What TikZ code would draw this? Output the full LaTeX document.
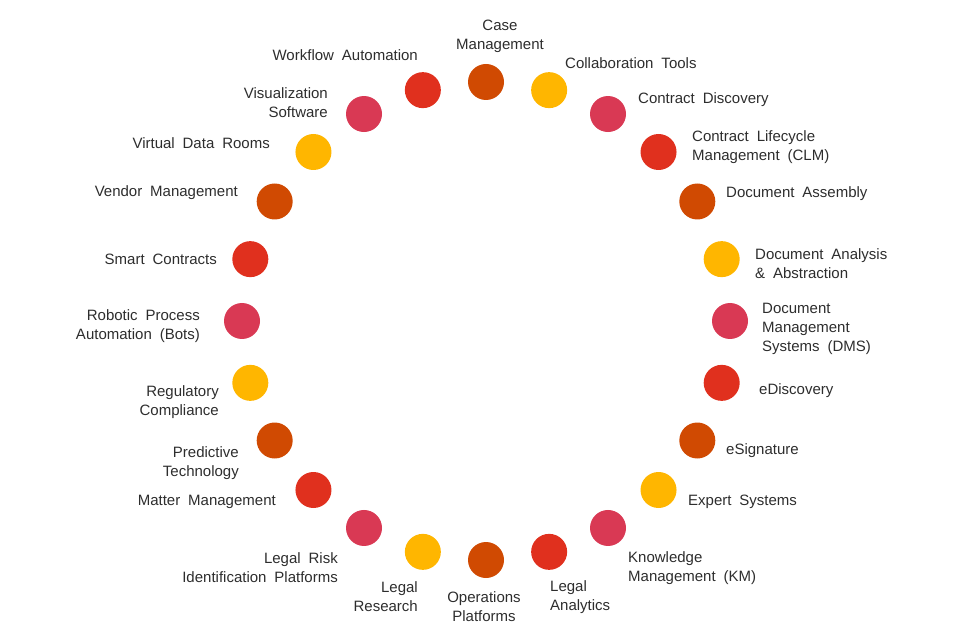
\documentclass[tikz,border=0pt]{standalone}
\usepackage{fontspec}
\setmainfont{Liberation Sans}[WordSpace=1.9]
\definecolor{pwcorange}{HTML}{D04A02}
\definecolor{pwcyellow}{HTML}{FFB600}
\definecolor{pwcrose}{HTML}{D93954}
\definecolor{pwcred}{HTML}{E0301E}
\definecolor{labelgray}{HTML}{2D2D2D}

\begin{document}
\begin{tikzpicture}[x=1pt,y=-1pt,font=\fontsize{15}{19}\selectfont,text=labelgray]
  \tikzstyle{dot}=[circle,minimum size=36pt,inner sep=0pt]
  \tikzstyle{tag}=[inner sep=0pt]
  \useasboundingbox (0,0) rectangle (980,636);
  % ring of 24 dots, clockwise from the top
  \foreach \c [count=\i from 0] in {pwcorange,pwcyellow,pwcrose,pwcred,pwcorange,pwcyellow,pwcrose,pwcred,
    pwcorange,pwcyellow,pwcrose,pwcred,pwcorange,pwcyellow,pwcrose,pwcred,
    pwcorange,pwcyellow,pwcrose,pwcred,pwcorange,pwcyellow,pwcrose,pwcred}
    \node[dot,fill=\c] (c\i) at ({486+244*cos(-90+15*\i)},{321+239*sin(-90+15*\i)}) {};
  % right half
  \node[tag,align=center] (case) at (500,36) {Case\\Management};
  \node[tag,anchor=west] (collab) at (565,63) {Collaboration Tools};
  \node[tag,anchor=west] (discovery) at (638,100) {Contract Discovery};
  \node[tag,anchor=west,align=left] (clm) at (692,147) {Contract Lifecycle\\Management (CLM)};
  \node[tag,anchor=west] (assembly) at (726,194) {Document Assembly};
  \node[tag,anchor=west,align=left] (analysis) at (755,264) {Document Analysis\\\& Abstraction};
  \node[tag,anchor=west,align=left] (dms) at (762,329) {Document\\Management\\Systems (DMS)};
  \node[tag,anchor=west] (ediscovery) at (759,391) {eDiscovery};
  \node[tag,anchor=west] (esignature) at (726,451) {eSignature};
  \node[tag,anchor=west] (expert) at (688,502) {Expert Systems};
  \node[tag,anchor=west,align=left] (km) at (628,568) {Knowledge\\Management (KM)};
  \node[tag,anchor=west,align=left] (analytics) at (550,597) {Legal\\Analytics};
  \node[tag,align=center] (operations) at (484,607) {Operations\\Platforms};
  % left half
  \node[tag,anchor=east,align=right] (research) at (418,597) {Legal\\Research};
  \node[tag,anchor=east,align=right] (risk) at (338,568) {Legal Risk\\Identification Platforms};
  \node[tag,anchor=east] (matter) at (276,502) {Matter Management};
  \node[tag,anchor=east,align=right] (predictive) at (239,463) {Predictive\\Technology};
  \node[tag,anchor=east,align=right] (regulatory) at (219,402) {Regulatory\\Compliance};
  \node[tag,anchor=east,align=right] (robotic) at (200,326) {Robotic Process\\Automation (Bots)};
  \node[tag,anchor=east] (smart) at (217,259) {Smart Contracts};
  \node[tag,anchor=east] (vendor) at (238,193) {Vendor Management};
  \node[tag,anchor=east] (virtual) at (270,143) {Virtual Data Rooms};
  \node[tag,anchor=east,align=right] (visualization) at (328,103) {Visualization\\Software};
  \node[tag,anchor=east] (workflow) at (418,55) {Workflow Automation};
\end{tikzpicture}
\end{document}
